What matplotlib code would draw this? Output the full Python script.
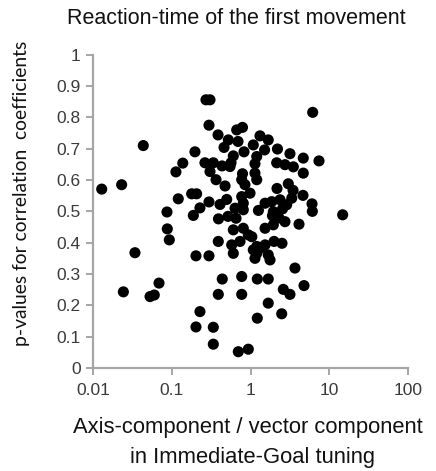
import matplotlib
matplotlib.use("Agg")
import matplotlib.pyplot as plt
from matplotlib.ticker import FixedLocator, FixedFormatter, NullLocator

# ratio (axis-component / vector component) and p-values
x_ratio = [
    0.0129, 0.0231, 0.0435, 0.0341, 0.0243, 0.0530, 0.0600, 0.0689, 0.0870, 0.0878,
    0.0931, 0.113, 0.138, 0.121, 0.179, 0.207, 0.197, 0.188, 0.228, 0.203,
    0.297, 0.228, 0.203, 0.337, 0.337, 0.700, 0.938,
    0.272, 0.306, 6.16, 0.297, 0.387, 0.668, 0.791, 0.523, 0.694, 0.461,
    1.085, 1.32, 1.68, 1.51, 2.20, 3.17, 4.68, 7.41, 0.264, 0.337,
    0.605, 0.566, 0.827, 1.20, 1.14, 2.15, 2.74, 3.50, 4.68, 0.306,
    0.435, 0.549, 0.365, 0.475, 0.791, 1.14, 0.773, 0.851, 1.20, 2.17,
    3.02, 3.47, 4.64, 6.04, 6.10, 0.297, 0.410, 0.499, 0.773, 0.810,
    0.986, 0.636, 0.810, 1.53, 1.86, 2.37, 2.88, 3.34, 1.26, 1.95,
    2.55, 14.8, 0.392, 0.518, 0.655, 1.90, 2.30, 2.74, 4.13, 0.605,
    0.810, 0.938, 1.53, 1.95, 0.390, 0.577, 0.736, 1.04, 1.20, 1.53,
    1.99, 2.51, 0.605, 1.20, 1.68, 1.085, 1.32, 1.14, 1.77, 3.67,
    0.438, 0.773, 1.22, 1.68, 0.390, 0.773, 2.61, 3.17, 4.78, 1.68,
    1.22, 2.49,
]
p_values = [
    0.571, 0.585, 0.710, 0.368, 0.243, 0.228, 0.233, 0.271, 0.498, 0.444,
    0.409, 0.626, 0.654, 0.540, 0.556, 0.556, 0.690, 0.487, 0.511, 0.358,
    0.358, 0.180, 0.131, 0.130, 0.076, 0.052, 0.060,
    0.856, 0.856, 0.816, 0.775, 0.744, 0.760, 0.768, 0.728, 0.723, 0.704,
    0.712, 0.741, 0.728, 0.696, 0.699, 0.684, 0.670, 0.661, 0.655, 0.655,
    0.677, 0.655, 0.690, 0.675, 0.652, 0.655, 0.649, 0.642, 0.622, 0.627,
    0.645, 0.643, 0.601, 0.581, 0.620, 0.622, 0.601, 0.585, 0.601, 0.573,
    0.588, 0.567, 0.551, 0.524, 0.500, 0.530, 0.522, 0.538, 0.547, 0.526,
    0.558, 0.510, 0.505, 0.526, 0.531, 0.537, 0.521, 0.542, 0.503, 0.499,
    0.508, 0.489, 0.476, 0.484, 0.478, 0.486, 0.479, 0.467, 0.459, 0.441,
    0.446, 0.425, 0.446, 0.457, 0.404, 0.393, 0.404, 0.419, 0.388, 0.393,
    0.404, 0.398, 0.366, 0.366, 0.361, 0.377, 0.382, 0.350, 0.345, 0.319,
    0.284, 0.292, 0.284, 0.284, 0.235, 0.235, 0.251, 0.235, 0.263, 0.207,
    0.159, 0.173,
]

x_ticks = [0.01, 0.1, 1, 10, 100]
x_tick_labels = ["0.01", "0.1", "1", "10", "100"]
y_ticks = [0, 0.1, 0.2, 0.3, 0.4, 0.5, 0.6, 0.7, 0.8, 0.9, 1.0]
y_tick_labels = ["0", "0.1", "0.2", "0.3", "0.4", "0.5", "0.6", "0.7", "0.8", "0.9", "1"]

title = "Reaction-time of the first movement"
x_label_1 = "Axis-component / vector component"
x_label_2 = "in Immediate-Goal tuning"
y_label = "p-values for correlation  coefficients"

W, H = 436, 471
fig = plt.figure(figsize=(W / 100, H / 100), dpi=100)
ax = fig.add_axes([93 / W, 1 - 368 / H, (408 - 93) / W, (368 - 54.7) / H])

ax.scatter(x_ratio, p_values, s=64, c="black", edgecolors="none", zorder=3)

ax.set_xscale("log")
ax.set_xlim(0.01, 100)
ax.set_ylim(0, 1)
ax.xaxis.set_major_locator(FixedLocator(x_ticks))
ax.xaxis.set_major_formatter(FixedFormatter(x_tick_labels))
ax.xaxis.set_minor_locator(NullLocator())
ax.set_yticks(y_ticks)
ax.set_yticklabels(y_tick_labels)

axis_grey = "#A6A6A6"
for side in ["top", "right"]:
    ax.spines[side].set_visible(False)
for side in ["left", "bottom"]:
    ax.spines[side].set_color(axis_grey)
    ax.spines[side].set_linewidth(1.6)
ax.tick_params(axis="both", which="major", direction="out", length=5, width=1.4,
               color=axis_grey, labelcolor="#3a3a3a", labelsize=12.5, pad=4)
for lab in ax.get_xticklabels() + ax.get_yticklabels():
    lab.set_fontfamily("Liberation Sans")
ax.tick_params(axis="x", pad=6)

fig.text(236 / W, 1 - 18 / H, title, ha="center", va="center",
         fontsize=15.5, family="Liberation Sans", color="#111111")
fig.text(248 / W, 1 - 427 / H, x_label_1, ha="center", va="center",
         fontsize=15.8, family="Liberation Sans", color="#111111")
fig.text(252 / W, 1 - 457 / H, x_label_2, ha="center", va="center",
         fontsize=15.8, family="Liberation Sans", color="#111111")
fig.text(22 / W, 1 - 193 / H, y_label, ha="center", va="center", rotation=90,
         fontsize=13.9, family="Lato", color="#111111")

fig.savefig("out.png", dpi=100)
